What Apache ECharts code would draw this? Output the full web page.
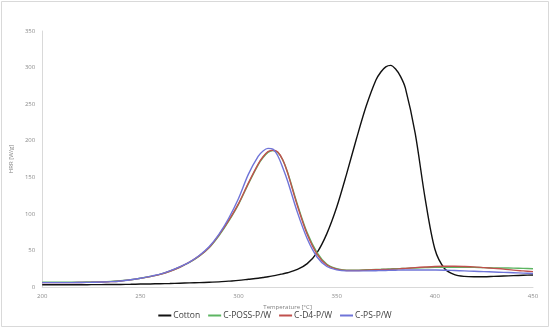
<!DOCTYPE html>
<html>
<head>
<meta charset="utf-8">
<script src="https://cdn.jsdelivr.net/npm/echarts@6/dist/echarts.min.js"></script>
<style>html,body{margin:0;padding:0;background:#fff}#c{width:550px;height:328px}</style>
</head>
<body>
<div id="c"></div>
<script>
const temps = [200,205,210,215,220,225,230,235,240,245,250,255,260,265,270,275,280,285,290,295,300,305,310,312.5,315,317.5,320,322.5,325,330,335,340,345,350,355,360,365,370,372.5,375,377.5,380,382.5,385,390,395,400,405,410,415,420,425,430,435,440,445,450];
const cotton = [3,3,3,3,3,3.2,3.3,3.4,3.5,3.7,4,4.2,4.5,4.8,5.2,5.6,6,6.5,7,8,9,10.5,12,13,14,15.2,16.5,18,19.5,24,32,47,73,109,154,202,247,283,294,301,303,298,288,272,210,122,52,25,17,14.5,14,14,14.5,15,15.5,16,16.5];
const cPoss = [6.5,6.5,6.5,6.5,6.7,6.9,7.2,7.7,8.6,10,12,14.3,17.2,21.5,27,33.5,42,53.5,70,90,113,141,167,177,184,186.5,184,174,157,113,74,47,31,25,23,23,23.5,24,24.2,24.5,24.7,25,25.2,25.5,26,26.5,27,27,27,27,26.8,26.5,26.2,26,25.8,25.5,25];
const cD4 = [6,6,6,6,6.2,6.4,6.8,7.3,8.3,9.8,11.8,14.2,17.2,21.5,27,34,42.5,54,71,91,114,142,168,178,185,187,184.5,174,156,111,72,45,30,24.5,22.5,22.5,23,23.5,23.7,24,24.2,24.5,25,25.5,26.5,27.3,28,28.3,28.3,28,27.5,26.5,25.5,24.5,23,22,21];
const cPs = [6,6,6,6,6.2,6.4,6.8,7.3,8.3,10,12,14.5,17.5,22,27.5,34,43,55,72,94,121,154,178.5,186,189.5,188.5,179.5,163.5,145,102,66,41,28,23.5,22,22,22,22.3,22.5,22.6,22.8,23,23.1,23.2,23.3,23.3,23.2,23,22.5,22,21.5,21,20.5,20,19.5,19,18.5];
const seriesNames = ['Cotton','C-POSS-P/W','C-D4-P/W','C-PS-P/W'];
const xTitle = 'Temperature [°C]';
const yTitle = 'HRR [W/g]';

const colors = ['#111111','#5DB562','#C0504D','#6F74D8'];
const valuesList = [cotton,cPoss,cD4,cPs];
const chart = echarts.init(document.getElementById('c'), null, {renderer:'canvas'});
const lbl = {color:'#8c8c8c', fontSize:6, fontFamily:'Open Sans'};
chart.setOption({
  animation:false,
  backgroundColor:'#fff',
  color:colors,
  graphic:[{type:'rect',shape:{x:1.5,y:1.5,width:547,height:325},style:{fill:'none',stroke:'#d9d9d9',lineWidth:1},silent:true}],
  grid:{left:29,right:17,top:31,bottom:41},
  legend:{
    data:seriesNames, bottom:3, left:'center', itemGap:8, itemWidth:13, itemHeight:2, icon:'rect',
    textStyle:{color:'#404040', fontSize:8.5, fontFamily:'Open Sans', padding:[0,0,0,-3]}
  },
  xAxis:{
    type:'value', min:200, max:450, interval:50,
    name:xTitle, nameLocation:'middle', nameGap:15,
    nameTextStyle:{color:'#7f7f7f', fontSize:6, fontFamily:'Open Sans'},
    axisLine:{show:true, lineStyle:{color:'#d9d9d9', width:1}},
    axisTick:{show:false}, splitLine:{show:false},
    axisLabel:Object.assign({margin:6}, lbl)
  },
  yAxis:{
    type:'value', min:0, max:350, interval:50,
    name:yTitle, nameLocation:'middle', nameGap:19, nameRotate:90,
    nameTextStyle:{color:'#7f7f7f', fontSize:6, fontFamily:'Open Sans'},
    axisLine:{show:true, lineStyle:{color:'#d9d9d9', width:1}},
    axisTick:{show:false}, splitLine:{show:false},
    axisLabel:Object.assign({margin:7}, lbl)
  },
  series: seriesNames.map((n,i)=>({
    name:n, type:'line', smooth:0.3, showSymbol:false, symbol:'none',
    lineStyle:{width:1.4, color:colors[i]}, itemStyle:{color:colors[i]},
    data: temps.map((t,k)=>[t, valuesList[i][k]])
  }))
});
</script>
</body>
</html>
